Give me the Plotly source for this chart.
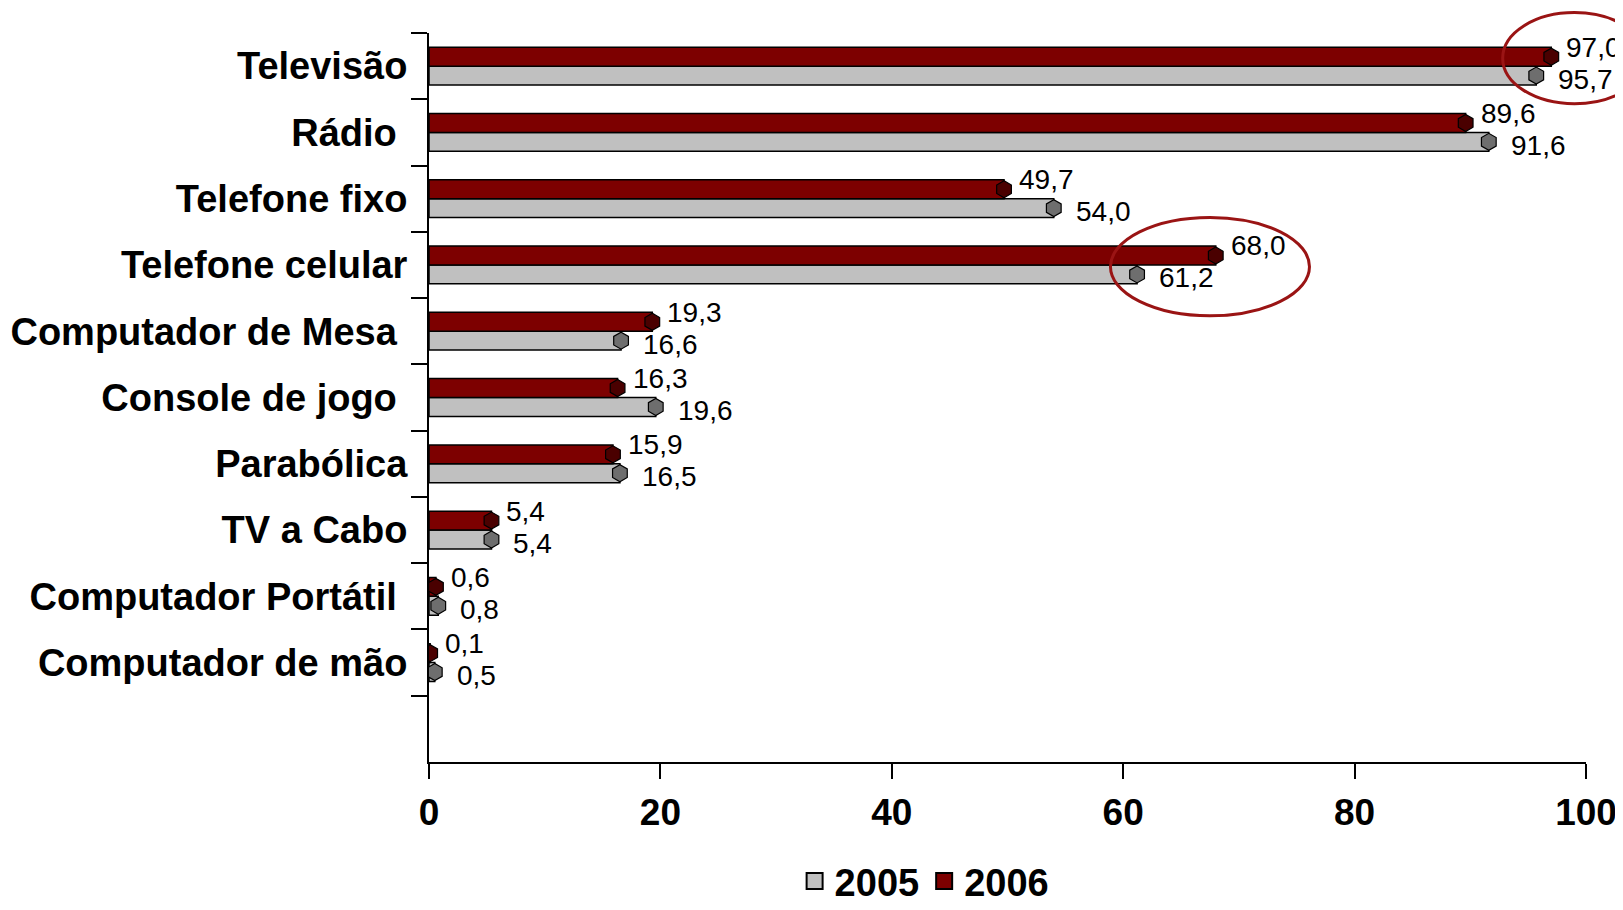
import plotly.graph_objects as go

# categories bottom-to-top
categories = ["Computador de mão", "Computador Portátil", "TV a Cabo", "Parabólica",
              "Console de jogo", "Computador de Mesa", "Telefone celular", "Telefone fixo",
              "Rádio", "Televisão"]
tick_labels = ["Computador de mão", "Computador Portátil\u00a0", "TV a Cabo", "Parabólica",
               "Console de jogo\u00a0", "Computador de Mesa\u00a0", "Telefone celular", "Telefone fixo",
               "Rádio\u00a0", "Televisão"]
v2005 = [0.5, 0.8, 5.4, 16.5, 19.6, 16.6, 61.2, 54.0, 91.6, 95.7]
v2006 = [0.1, 0.6, 5.4, 15.9, 16.3, 19.3, 68.0, 49.7, 89.6, 97.0]
x_ticks = [0, 20, 40, 60, 80, 100]
series_names = ["2005", "2006"]

FONT = "Liberation Sans, Arial, sans-serif"
RED = "#7d0000"
GRAY = "#c0c0c0"

def fmt(v):
    return f"{v:.1f}".replace(".", ",")

fig = go.Figure()
fig.add_trace(go.Bar(name=series_names[0], y=categories, x=v2005, orientation="h",
                     marker=dict(color=GRAY, line=dict(color="black", width=1.5)),
                     offsetgroup="a", showlegend=False))
fig.add_trace(go.Bar(name=series_names[1], y=categories, x=v2006, orientation="h",
                     marker=dict(color=RED, line=dict(color="black", width=1.5)),
                     offsetgroup="b", showlegend=False))
# bar end caps
fig.add_trace(go.Scatter(y=categories, x=v2005, mode="markers", orientation="h",
                         offsetgroup="a", showlegend=False, hoverinfo="skip",
                         marker=dict(symbol="hexagon", size=17, color="#6e6e6e",
                                     line=dict(color="black", width=1.2))))
fig.add_trace(go.Scatter(y=categories, x=v2006, mode="markers", orientation="h",
                         offsetgroup="b", showlegend=False, hoverinfo="skip",
                         marker=dict(symbol="hexagon", size=17, color="#4a0000",
                                     line=dict(color="black", width=1.2))))
# legend entries (larger square swatches)
for nm, col in zip(series_names, [GRAY, RED]):
    fig.add_trace(go.Scatter(x=[None], y=[None], mode="markers", name=nm,
                             marker=dict(symbol="square", size=16, color=col,
                                         line=dict(color="black", width=2))))

annotations = []
for c, a, b in zip(categories, v2005, v2006):
    annotations.append(dict(x=b, y=c, xref="x", yref="y", text=fmt(b), showarrow=False,
                            xanchor="left", yanchor="middle", xshift=13, yshift=19,
                            font=dict(family=FONT, size=28, color="black")))
    annotations.append(dict(x=a, y=c, xref="x", yref="y", text=fmt(a), showarrow=False,
                            xanchor="left", yanchor="middle", xshift=20, yshift=-13,
                            font=dict(family=FONT, size=28, color="black")))

shapes = [
    dict(type="circle", xref="paper", yref="paper", x0=0.928, x1=1.052, y0=0.903, y1=1.028,
         line=dict(color="#9a1414", width=3)),
    dict(type="circle", xref="paper", yref="paper", x0=0.589, x1=0.761, y0=0.612, y1=0.747,
         line=dict(color="#9a1414", width=3)),
]

fig.update_layout(
    template="none",
    width=1615, height=902,
    margin=dict(l=421, r=37, t=25, b=148, autoexpand=False),
    paper_bgcolor="white", plot_bgcolor="white",
    barmode="group", bargap=0.43, bargroupgap=0,
    scattermode="group", scattergap=0.43,
    font=dict(family=FONT, color="black"),
    xaxis=dict(range=[0, 100], tickvals=x_ticks, showgrid=False, zeroline=False,
               automargin=False,
               showline=True, linecolor="black", linewidth=2,
               ticks="outside", ticklen=15, tickwidth=2, tickcolor="black",
               ticklabelstandoff=2,
               tickfont=dict(family=FONT, size=37, color="black", weight="bold")),
    yaxis=dict(type="category", categoryorder="array", categoryarray=categories,
               range=[-1.5, 9.5], tickvals=categories, ticktext=tick_labels,
               tickson="boundaries", showgrid=False, zeroline=False,
               automargin=False,
               showline=True, linecolor="black", linewidth=2,
               ticks="outside", ticklen=16, tickwidth=2, tickcolor="black",
               ticklabelstandoff=12,
               tickfont=dict(family=FONT, size=38, color="black", weight="bold")),
    legend=dict(orientation="h", x=0.316, xanchor="left", y=-0.207, yanchor="bottom",
                font=dict(family=FONT, size=38, color="black", weight="bold"),
                itemwidth=30, itemsizing="trace", bgcolor="rgba(0,0,0,0)"),
    annotations=annotations,
    shapes=shapes,
    showlegend=True,
)

fig.write_html("out.html")
